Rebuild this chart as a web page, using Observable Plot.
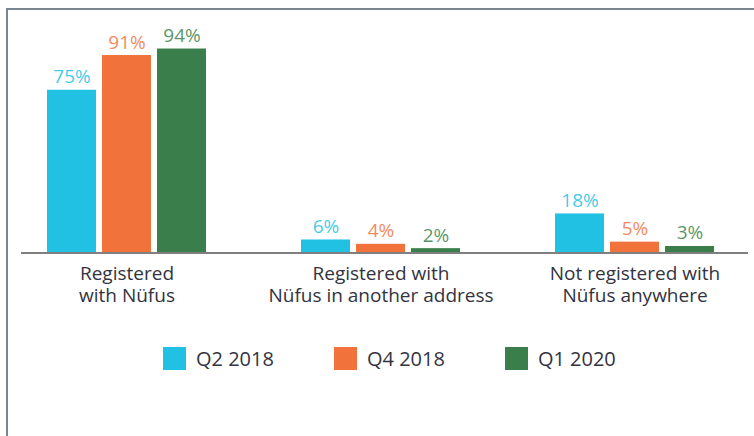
<!DOCTYPE html>
<html>
<head>
<meta charset="utf-8">
<script src="https://cdn.jsdelivr.net/npm/d3@7"></script>
<script src="https://cdn.jsdelivr.net/npm/@observablehq/plot@0.6"></script>
<style>
  html, body { margin: 0; padding: 0; background: #fff; overflow: hidden; }
  body { width: 754px; height: 436px; position: relative; font-family: "Open Sans", sans-serif; }
  #frame { position: absolute; left: 6px; top: 8px; width: 800px; height: 500px;
           border-top: 2px solid #7b8591; border-left: 2px solid #7b8591; }
  #chart { position: absolute; left: 0; top: 0; }
  #legend { position: absolute; left: 163px; top: 346px; display: flex; gap: 60px;
            font-size: 20px; color: #333340; }
  .item { display: flex; align-items: center; height: 24px; }
  .sw { width: 23px; height: 23px; margin-right: 10px; }
</style>
</head>
<body>
<div id="frame"></div>
<div id="chart"></div>
<div id="legend"></div>
<script>
const categories = ["Registered\nwith Nüfus", "Registered with\nNüfus in another address", "Not registered with\nNüfus anywhere"];
const series = ["Q2 2018", "Q4 2018", "Q1 2020"];
const q2_2018 = [75, 6, 18];
const q4_2018 = [91, 4, 5];
const q1_2020 = [94, 2, 3];
const colors = ["#20c1e2", "#f2723c", "#3a7f4b"];

const valuesBySeries = [q2_2018, q4_2018, q1_2020];
const rows = [];
series.forEach((s, i) => categories.forEach((c, j) => rows.push({series: s, idx: i, category: c, value: valuesBySeries[i][j]})));

const barW = 50, gap = 5, band = 3 * barW + 2 * gap;
const marks = [];
series.forEach((s, i) => {
  const data = rows.filter(d => d.series === s);
  marks.push(Plot.barY(data, {x: "category", y: "value", fill: colors[i],
    insetLeft: i * (barW + gap), insetRight: band - (i * (barW + gap) + barW)}));
  marks.push(Plot.text(data, {x: "category", y: "value", text: d => d.value + "%",
    fill: colors[i], dx: (i - 1) * (barW + gap), dy: -7, lineAnchor: "bottom",
    fontSize: 19, fillOpacity: 0.85}));
});
marks.push(Plot.ruleY([0], {stroke: "#7f7f7f", strokeWidth: 2}));
marks.push(Plot.axisX({tickSize: 0, tickPadding: 12, fontSize: 19, lineHeight: 1.14, fill: "#333340"}));

const chart = Plot.plot({
  width: 754,
  height: 330,
  marginLeft: 21,
  marginRight: 6,
  marginTop: 35.5,
  marginBottom: 77.5,
  style: {fontFamily: "'Open Sans', sans-serif", background: "transparent", overflow: "visible"},
  x: {domain: categories, paddingInner: 0.3725, paddingOuter: 0.112, align: 0.44, label: null},
  y: {domain: [0, 100], axis: null},
  marks
});
document.getElementById("chart").appendChild(chart);

const legend = document.getElementById("legend");
series.forEach((s, i) => {
  const it = document.createElement("div");
  it.className = "item";
  it.innerHTML = `<span class="sw" style="background:${colors[i]}"></span><span>${s}</span>`;
  legend.appendChild(it);
});
</script>
</body>
</html>
